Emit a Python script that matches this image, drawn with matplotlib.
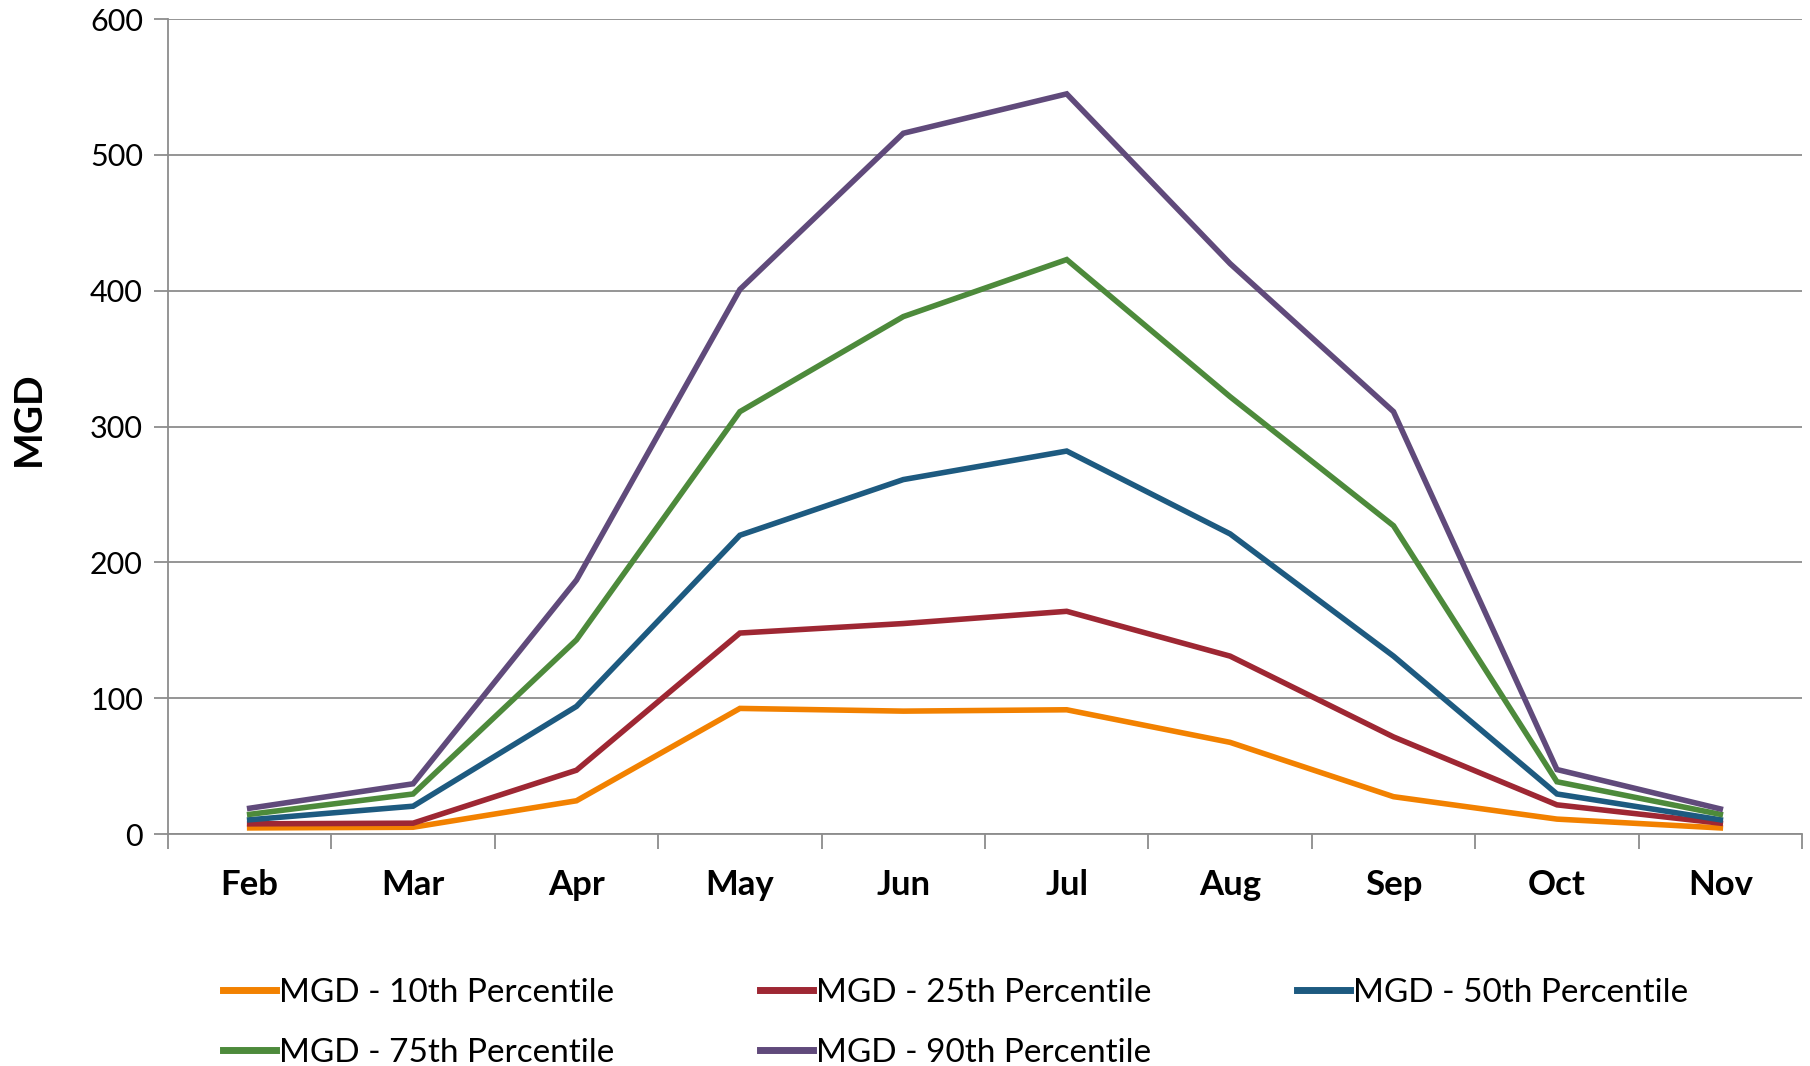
import numpy as np
import matplotlib
matplotlib.use("Agg")
import matplotlib.pyplot as plt

plt.rcParams['font.family'] = ['Lato', 'DejaVu Sans']

#%% Data
months  = ['Feb', 'Mar', 'Apr', 'May', 'Jun', 'Jul', 'Aug', 'Sep', 'Oct', 'Nov']

mgd_10  = [4.5, 5, 24.5, 92.5, 90.5, 91.5, 67.5, 27.5, 11, 4.5]
mgd_25  = [7.5, 8, 47, 148, 155, 164, 131, 71.5, 21.5, 8]
mgd_50  = [10.5, 20.5, 94, 220, 261, 282, 221, 131, 29.5, 10.5]
mgd_75  = [14.5, 29.5, 143, 311, 381, 423, 322, 227, 38.5, 14.5]
mgd_90  = [19, 37, 187, 401, 516, 545, 420, 311, 47.5, 18.5]

series  = [mgd_10, mgd_25, mgd_50, mgd_75, mgd_90]
labels  = ['MGD - 10th Percentile', 'MGD - 25th Percentile', 'MGD - 50th Percentile',
           'MGD - 75th Percentile', 'MGD - 90th Percentile']
colors  = ['#F28100', '#9E2733', '#1D5A80', '#4D8A3B', '#604A7B']

#### Initialize Figure
fig = plt.figure(figsize=(18.10, 10.66), dpi=100)
ax  = fig.add_axes([0.0928, 0.2176, 0.9028, 0.7644])

x = np.arange(len(months)) + 0.5
lines = []
for vals, lab, col in zip(series, labels, colors):
    ln, = ax.plot(x, vals, color=col, lw=4, label=lab, solid_joinstyle='miter')
    lines.append(ln)

#### Axes
grid_col = '#8C8C8C'
ax.set_xlim(0, len(months))
ax.set_ylim(0, 600)
ax.set_yticks(np.arange(0, 601, 100))
ax.yaxis.grid(True, color=grid_col, lw=1.3)
ax.set_axisbelow(True)

ax.set_xticks(np.arange(0, len(months) + 1))
ax.set_xticklabels([])
ax.set_xticks(x, minor=True)
ax.set_xticklabels(months, minor=True, fontsize=25, fontweight='bold')
ax.tick_params(axis='x', which='minor', length=0, pad=25)
ax.tick_params(axis='x', which='major', length=11, width=1.3, color=grid_col)
ax.tick_params(axis='y', length=10, width=1.3, color=grid_col, labelsize=22, pad=8)

for s in ['top', 'right']:
    ax.spines[s].set_visible(False)
for s in ['left', 'bottom']:
    ax.spines[s].set_color(grid_col)
    ax.spines[s].set_linewidth(1.3)

ax.set_ylabel('MGD', fontsize=28, fontweight='bold')
ax.yaxis.set_label_coords(-0.075, 0.51)

#### Legend (row-major order as in the original)
order = [0, 3, 1, 4, 2]
leg = fig.legend([lines[i] for i in order], [labels[i] for i in order],
                 loc='upper left', bbox_to_anchor=(0.123, 0.083), ncol=3,
                 fontsize=24, frameon=False, handlelength=1.6, handletextpad=0.1,
                 columnspacing=4.35, labelspacing=0.9, borderaxespad=0, borderpad=0)
for h in leg.get_lines():
    h.set_linewidth(5)

fig.savefig('out.png', dpi=100)
